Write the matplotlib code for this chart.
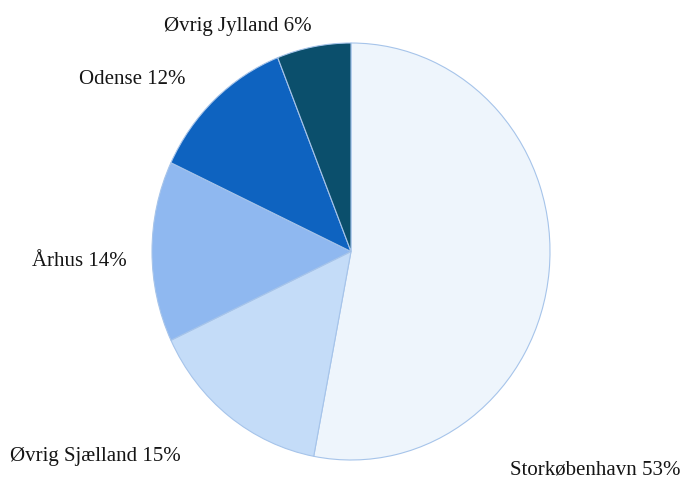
import matplotlib.pyplot as plt

# data
regions = ['Storkøbenhavn', 'Øvrig Sjælland', 'Århus', 'Odense', 'Øvrig Jylland']
shares = [53, 15, 14, 12, 6]
colors = ['#eef5fc', '#c4dcf8', '#8fb8f0', '#0e63c0', '#0b4f6c']

# label centres in pixels (from top-left)
label_pos = [(595, 470), (95, 457), (79, 262), (132, 80), (238, 27)]

W, H = 683, 479
fig = plt.figure(figsize=(W / 100, H / 100), dpi=100)

# pie box in pixels: slightly taller than wide, as in the scan
left, top, right, bottom = 152, 43, 550, 460
ax = fig.add_axes([left / W, 1 - bottom / H, (right - left) / W, (bottom - top) / H])

ax.pie(shares, colors=colors, startangle=90, counterclock=False,
       wedgeprops=dict(edgecolor='#a6c4ea', linewidth=0.8))
ax.set_aspect('auto')
ax.set_xlim(-1, 1)
ax.set_ylim(-1, 1)
ax.axis('off')

for name, val, (x, y) in zip(regions, shares, label_pos):
    fig.text(x / W, 1 - y / H, f'{name} {val}%', ha='center', va='center',
             fontsize=15, family='Liberation Serif', color='#151515')

fig.savefig('out.png', dpi=100)
